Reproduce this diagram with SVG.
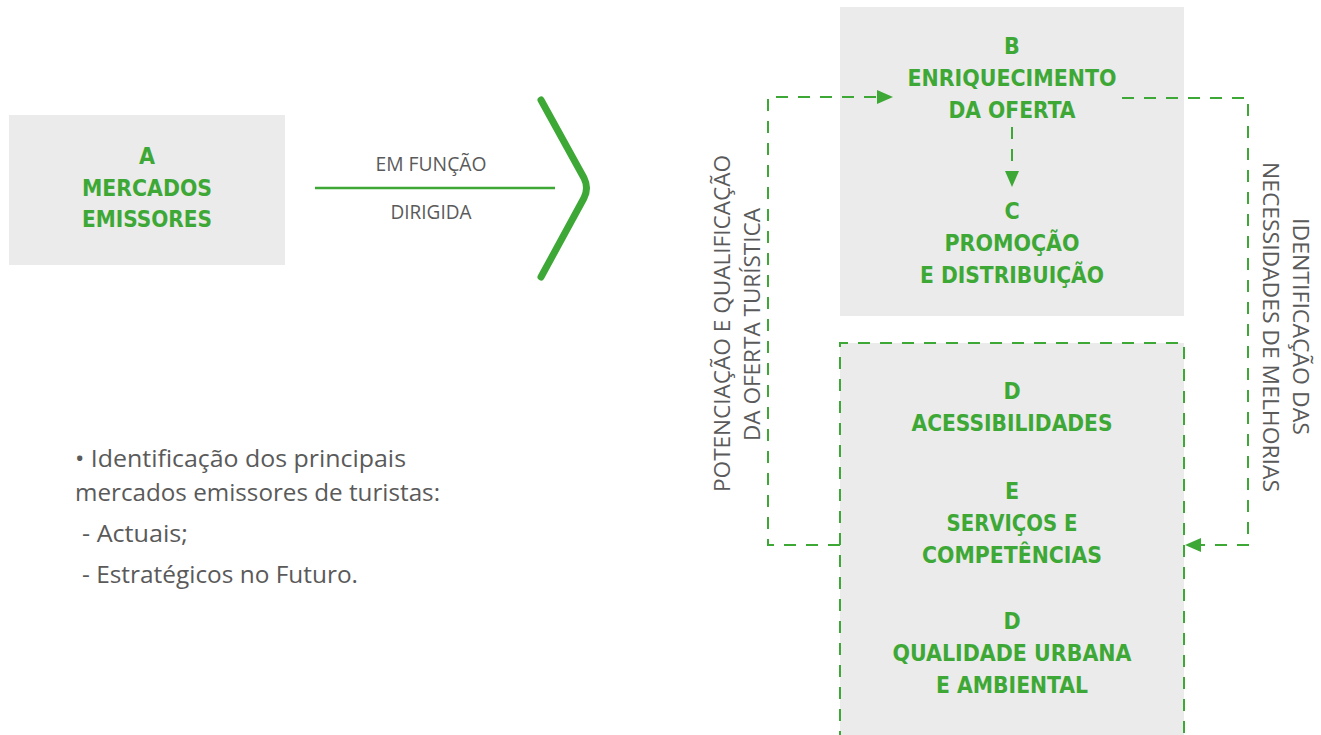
<svg xmlns="http://www.w3.org/2000/svg" width="1321" height="735" viewBox="0 0 1321 735">
<defs>
<style>
.box{fill:#ebebeb}
.t{font-family:"DejaVu Sans","Liberation Sans",sans-serif;font-stretch:condensed;font-weight:bold;font-size:23px;fill:#3ea836;text-anchor:middle}
.g{font-family:"Open Sans","Liberation Sans",sans-serif;font-weight:400;fill:#5a5a5a}
.dash{fill:none;stroke:#3ea836;stroke-width:2;stroke-dasharray:12 10}
.solid{fill:none;stroke:#3ea836}
.ah{fill:#3ea836}
</style>
</defs>
<rect width="1321" height="735" fill="#ffffff"/>
<g id="nodeA">
<rect class="box" x="9" y="115" width="276" height="150"/>
<text class="t" x="147" y="164">A</text>
<text class="t" x="147" y="196" textLength="130" lengthAdjust="spacingAndGlyphs">MERCADOS</text>
<text class="t" x="147" y="227" textLength="130" lengthAdjust="spacingAndGlyphs">EMISSORES</text>
</g>
<g id="nodeBC">
<rect class="box" x="840" y="7" width="344" height="309"/>
<text class="t" x="1012" y="54">B</text>
<text class="t" x="1012" y="86" textLength="209" lengthAdjust="spacingAndGlyphs">ENRIQUECIMENTO</text>
<text class="t" x="1012" y="118" textLength="127" lengthAdjust="spacingAndGlyphs">DA OFERTA</text>
<text class="t" x="1012" y="219">C</text>
<text class="t" x="1012" y="251" textLength="135" lengthAdjust="spacingAndGlyphs">PROMOÇÃO</text>
<text class="t" x="1012" y="283" textLength="184" lengthAdjust="spacingAndGlyphs">E DISTRIBUIÇÃO</text>
</g>
<g id="nodeDE">
<rect class="box" x="840" y="343" width="344" height="400"/>
<path class="dash" d="M840,743 V343 H1184 V743"/>
<text class="t" x="1012" y="399">D</text>
<text class="t" x="1012" y="431" textLength="201" lengthAdjust="spacingAndGlyphs">ACESSIBILIDADES</text>
<text class="t" x="1012" y="499">E</text>
<text class="t" x="1012" y="531" textLength="131" lengthAdjust="spacingAndGlyphs">SERVIÇOS E</text>
<text class="t" x="1012" y="563" textLength="180" lengthAdjust="spacingAndGlyphs">COMPETÊNCIAS</text>
<text class="t" x="1012" y="629">D</text>
<text class="t" x="1012" y="661" textLength="239" lengthAdjust="spacingAndGlyphs">QUALIDADE URBANA</text>
<text class="t" x="1012" y="693" textLength="152" lengthAdjust="spacingAndGlyphs">E AMBIENTAL</text>
</g>
<g id="bullets">
<text class="g" font-size="23" x="75" y="467" textLength="331" lengthAdjust="spacingAndGlyphs">• Identificação dos principais</text>
<text class="g" font-size="23" x="75" y="501" textLength="365" lengthAdjust="spacingAndGlyphs">mercados emissores de turistas:</text>
<text class="g" font-size="23" x="82" y="542" textLength="106" lengthAdjust="spacingAndGlyphs">- Actuais;</text>
<text class="g" font-size="23" x="82" y="583" textLength="276" lengthAdjust="spacingAndGlyphs">- Estratégicos no Futuro.</text>
</g>
<g id="connectors">
<line class="solid" stroke-width="2.5" x1="315" y1="188" x2="555" y2="188"/>
<text class="g" font-size="20" x="431" y="171" text-anchor="middle" textLength="111" lengthAdjust="spacingAndGlyphs">EM FUNÇÃO</text>
<text class="g" font-size="20" x="431" y="219" text-anchor="middle" textLength="81" lengthAdjust="spacingAndGlyphs">DIRIGIDA</text>
<path class="solid" stroke-width="7" stroke-linecap="round" stroke-linejoin="round" d="M541,100 L584,178 Q589,188 584,198 L541,277"/>
<path class="dash" d="M840,545 H768 V97 H880"/>
<polygon class="ah" points="893,97 877,90 877,104"/>
<path class="dash" d="M1012,127 V172"/>
<polygon class="ah" points="1012,187 1005,171 1019,171"/>
<path class="dash" d="M1122,98 H1248 V545 H1198"/>
<polygon class="ah" points="1185,545 1201,538 1201,552"/>
<text class="g" font-size="22" transform="translate(730,323.5) rotate(-90)" text-anchor="middle" textLength="337" lengthAdjust="spacingAndGlyphs">POTENCIAÇÃO E QUALIFICAÇÃO</text>
<text class="g" font-size="22" transform="translate(760,324.5) rotate(-90)" text-anchor="middle" textLength="233" lengthAdjust="spacingAndGlyphs">DA OFERTA TURÍSTICA</text>
<text class="g" font-size="22" transform="translate(1293,326.5) rotate(90)" text-anchor="middle" textLength="217" lengthAdjust="spacingAndGlyphs">IDENTIFICAÇÃO DAS</text>
<text class="g" font-size="22" transform="translate(1263,327) rotate(90)" text-anchor="middle" textLength="330" lengthAdjust="spacingAndGlyphs">NECESSIDADES DE MELHORIAS</text>
</g>
</svg>
